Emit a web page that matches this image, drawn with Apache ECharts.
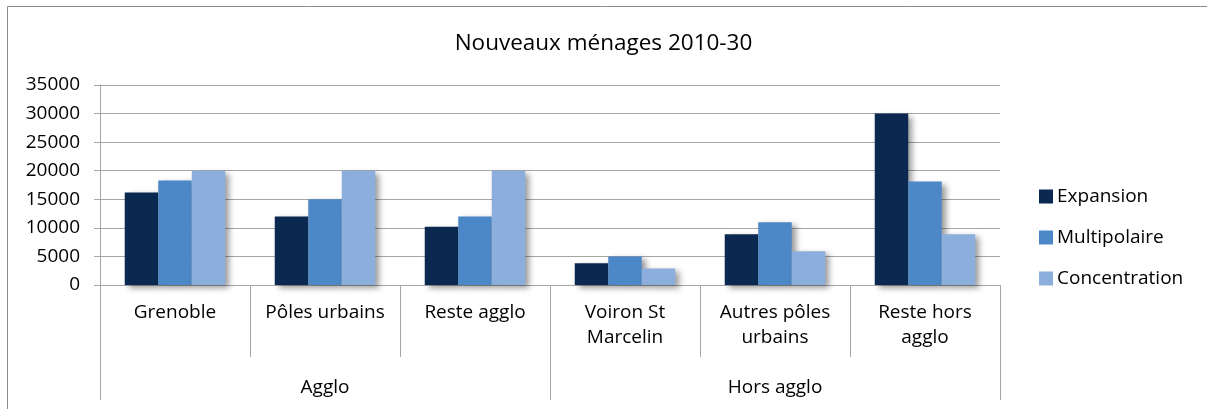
<!DOCTYPE html>
<html>
<head>
<meta charset="utf-8">
<title>Nouveaux ménages 2010-30</title>
<script src="https://cdn.jsdelivr.net/npm/echarts@6/dist/echarts.min.js"></script>
<style>
  html, body { margin: 0; padding: 0; background: #fff; }
  #chart { width: 1207px; height: 409px; }
</style>
</head>
<body>
<div id="chart"></div>
<script>
// données
const categories = ['Grenoble', 'Pôles urbains', 'Reste agglo', 'Voiron St\nMarcelin', 'Autres pôles\nurbains', 'Reste hors\nagglo']
const groups = ['Agglo', 'Hors agglo']
const expansion = [16200, 12000, 10200, 3800, 8900, 30000]
const multipolaire = [18300, 15000, 12000, 5000, 11000, 18100]
const concentration = [20000, 20000, 20000, 2900, 5900, 8900]

const font = '"Open Sans", "Liberation Sans", sans-serif'
const gray = '#a6a6a6'

const barShadow = {
  shadowBlur: 6,
  shadowOffsetX: 4,
  shadowOffsetY: 3,
  shadowColor: 'rgba(0, 0, 0, 0.4)'
}

const chart = echarts.init(document.getElementById('chart'))

chart.setOption({
  animation: false,
  textStyle: { fontFamily: font },
  title: {
    text: 'Nouveaux ménages 2010-30',
    left: 'center',
    top: 27,
    textStyle: { fontFamily: font, fontSize: 22.5, fontWeight: 'normal', color: '#000' }
  },
  graphic: [
    {
      type: 'rect',
      shape: { x: 7.5, y: 6.5, width: 1220, height: 420 },
      style: { fill: 'none', stroke: '#8c8c8c', lineWidth: 1 },
      silent: true
    }
  ],
  legend: {
    orient: 'vertical',
    left: 1039,
    top: 187,
    padding: 0,
    itemWidth: 14,
    itemHeight: 14,
    itemGap: 22,
    icon: 'rect',
    textStyle: { fontFamily: font, fontSize: 19, color: '#000', padding: [0, 0, 0, -1] }
  },
  grid: {
    left: 100,
    right: 207,
    top: 85,
    bottom: 124,
    containLabel: false
  },
  xAxis: [
    {
      type: 'category',
      data: categories,
      axisLine: { lineStyle: { color: gray } },
      axisTick: { show: true, interval: 0, length: 72, lineStyle: { color: gray } },
      axisLabel: {
        interval: 0,
        margin: 15,
        fontSize: 19,
        lineHeight: 25,
        color: '#000',
        fontFamily: font
      }
    },
    {
      type: 'category',
      data: groups,
      position: 'bottom',
      offset: 72,
      axisLine: { show: false },
      axisTick: { show: true, interval: 0, length: 43, lineStyle: { color: gray } },
      axisLabel: {
        interval: 0,
        margin: 21,
        fontSize: 19,
        color: '#000',
        fontFamily: font
      }
    }
  ],
  yAxis: {
    type: 'value',
    min: 0,
    max: 35000,
    interval: 5000,
    axisLine: { show: true, lineStyle: { color: gray } },
    axisTick: { show: true, length: 6, lineStyle: { color: gray } },
    axisLabel: {
      margin: 20,
      fontSize: 19,
      color: '#000',
      fontFamily: font,
      formatter: v => String(v)
    },
    splitLine: { lineStyle: { color: gray } }
  },
  series: [
    {
      name: 'Expansion',
      type: 'bar',
      data: expansion,
      barGap: 0,
      barCategoryGap: '33%',
      itemStyle: { color: '#0b2950', ...barShadow }
    },
    {
      name: 'Multipolaire',
      type: 'bar',
      data: multipolaire,
      itemStyle: { color: '#4c88c7', ...barShadow }
    },
    {
      name: 'Concentration',
      type: 'bar',
      data: concentration,
      itemStyle: { color: '#8baedc', ...barShadow }
    }
  ]
})
</script>
</body>
</html>
